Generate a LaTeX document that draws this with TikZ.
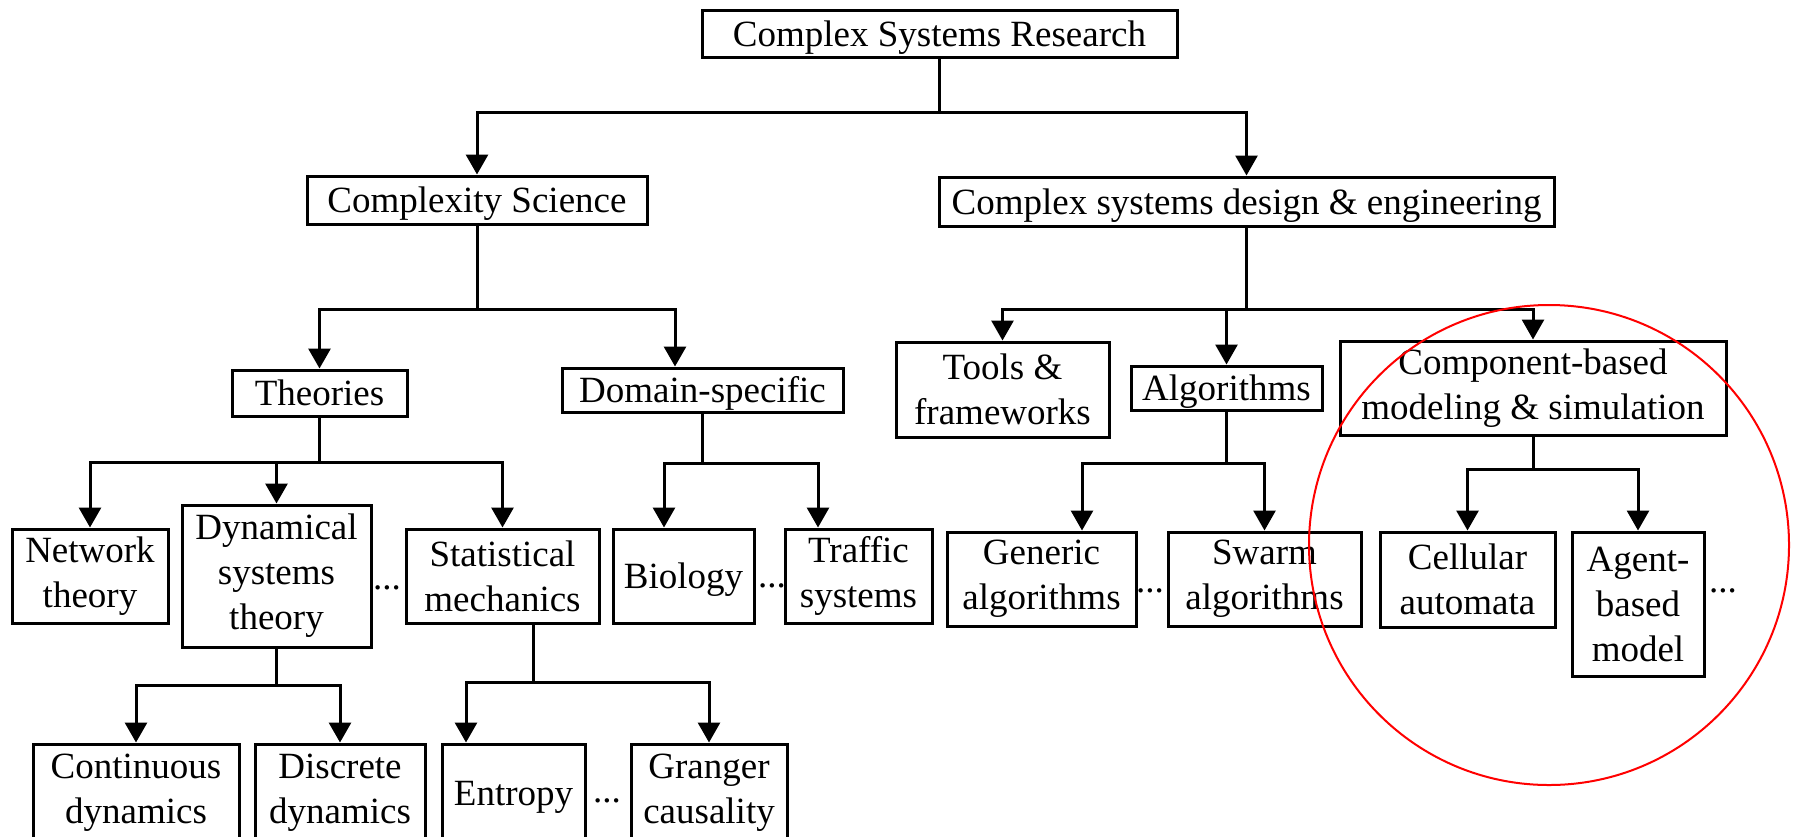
\documentclass[tikz,border=0pt]{standalone}
\usepackage{fontspec}
\setmainfont{Liberation Serif}
\usetikzlibrary{arrows.meta}
\newcommand\bx[7][]{\node[box, #1, minimum width={(#5-#3)*0.5pt}, minimum height={(#6-#4)*0.5pt}] (#2) at ({(#3+#5)/2},{(#4+#6)/2}) {#7};}
\begin{document}
\begin{tikzpicture}[x=0.5pt,y=-0.5pt,
  box/.style={draw, line width=1.5pt, inner sep=0pt, align=center, font=\fontsize{18.5}{22.5}\selectfont},
  oneline/.style={text height=12.6pt, text depth=0pt},
  wire/.style={line width=1.5pt},
  arr/.style={wire, -{Triangle[length=10pt,width=11pt]}},
  dots/.style={font=\fontsize{18.5}{22.5}\selectfont, inner sep=0pt, anchor=base},
  ring/.style={draw=red, line width=1pt}]
\clip (0,0) rectangle (1798,836);
\fill[white] (0,0) rectangle (1798,836);
% boxes
\bx[oneline]{root}{702}{10}{1177}{57}{Complex Systems Research}
\bx[oneline]{cs}{307}{176}{647}{224}{Complexity Science}
\bx[oneline]{csd}{939}{177}{1554}{226}{Complex systems design \& engineering}
\bx[oneline]{th}{232}{370}{407}{416}{Theories}
\bx[oneline]{dom}{562}{368}{843}{412}{Domain-specific}
\bx{tools}{896}{342}{1109}{437}{Tools \&\\frameworks}
\bx[oneline]{alg}{1131}{366}{1322}{410}{Algorithms}
\bx{comp}{1340}{341}{1726}{435}{Component-based\\modeling \& simulation}
\bx{net}{12}{529}{168}{623}{Network\\theory}
\bx{dyn}{182}{505}{371}{647}{Dynamical\\systems\\theory}
\bx{stat}{406}{529}{599}{623}{Statistical\\mechanics}
\bx[oneline]{bio}{613}{529}{754}{623}{Biology}
\bx{traf}{785}{529}{932}{623}{Traffic\\systems}
\bx{gen}{947}{532}{1136}{626}{Generic\\algorithms}
\bx{swarm}{1168}{532}{1361}{626}{Swarm\\algorithms}
\bx{cell}{1380}{532}{1555}{627}{Cellular\\automata}
\bx{agent}{1572}{532}{1704}{676}{Agent-\\based\\model}
\bx{cont}{33}{744}{239}{842}{Continuous\\dynamics}
\bx{disc}{255}{744}{425}{842}{Discrete\\dynamics}
\bx[oneline]{ent}{442}{744}{585}{842}{Entropy}
\bx{gra}{631}{744}{787}{842}{Granger\\causality}
% ellipses "..."
\node[dots] (d1) at (387,589) {...};
\node[dots] (d2) at (772,587) {...};
\node[dots] (d3) at (607,802) {...};
\node[dots] (d4) at (1150,592) {...};
\node[dots] (d5) at (1723,592) {...};
% connectors
\draw[wire] (root.south) -- ++(0,54) coordinate (j0);
\draw[arr] (j0) -| (cs.north);
\draw[arr] (j0) -| (csd.north);
\draw[wire] (cs.south) -- ++(0,84) coordinate (j1);
\draw[arr] (j1) -| (th.north);
\draw[arr] (j1) -| ([xshift=-13.75pt]dom.north);
\draw[wire] (csd.south) -- ++(0,82) coordinate (j2);
\draw[arr] (j2) -| (tools.north);
\draw[arr] (j2) -| (alg.north);
\draw[arr] (j2) -| (comp.north);
\draw[wire] (th.south) -- ++(0,45) coordinate (j3);
\draw[arr] (j3) -| (net.north);
\draw[arr] (j3) -| (dyn.north);
\draw[arr] (j3) -| (stat.north);
\draw[wire] (dom.south) -- ++(0,50) coordinate (j4);
\draw[arr] (j4) -| ([xshift=-9.75pt]bio.north);
\draw[arr] (j4) -| ([xshift=-20.25pt]traf.north);
\draw[wire] (dyn.south) -- ++(0,37) coordinate (j5);
\draw[arr] (j5) -| (cont.north);
\draw[arr] (j5) -| (disc.north);
\draw[wire] ([xshift=15.25pt]stat.south) -- ++(0,58) coordinate (j6);
\draw[arr] (j6) -| ([xshift=-23.75pt]ent.north);
\draw[arr] (j6) -| (gra.north);
\draw[wire] (alg.south) -- ++(0,52) coordinate (j7);
\draw[arr] (j7) -| ([xshift=20.25pt]gen.north);
\draw[arr] (j7) -| (swarm.north);
\draw[wire] (comp.south) -- ++(0,33) coordinate (j8);
\draw[arr] (j8) -| (cell.north);
\draw[arr] (j8) -| (agent.north);
% highlight
\node[ring, circle, minimum size=240pt, inner sep=0pt] (hl) at (1549,545) {};
\end{tikzpicture}
\end{document}
